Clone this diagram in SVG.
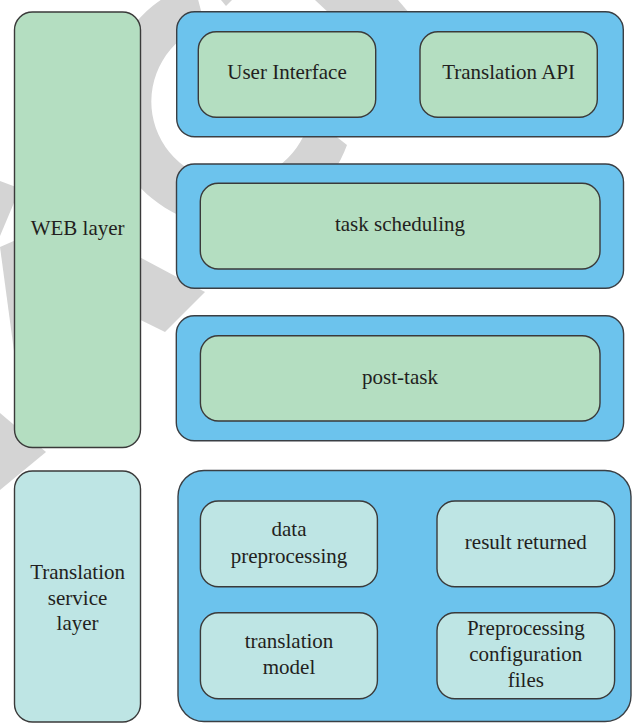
<svg xmlns="http://www.w3.org/2000/svg" width="632" height="724" viewBox="0 0 632 724">
  <style>
    .wm { fill: #d4d4d4; }
    .band { fill: #6cc3ed; stroke: #3a3f44; stroke-width: 1.4; }
    .web { fill: #b4dec1; stroke: #3a3a3a; stroke-width: 1.4; }
    .svc { fill: #bee5e4; stroke: #3a3a3a; stroke-width: 1.4; }
    .lbl { font-size: 21px; fill: #231f20; text-anchor: middle; }
  </style>

  <rect width="632" height="724" fill="#ffffff"/>

  <!-- background watermark lettering -->
  <g id="watermark">
    <path class="wm" d="M 194,-16 A 124 124 0 1 0 347,145 L 310,116 A 80 80 0 1 1 205,26 Z"/>
    <polygon class="wm" points="315,0 398,0 410,14 330,14"/>
    <polygon class="wm" points="221,0 232,0 226,6"/>
    <polygon class="wm" points="100,236 205,292 165,332 100,300"/>
    <polygon class="wm" points="0,181 16,187 16,198 0,236"/>
    <polygon class="wm" points="0,247 16,240 16,366"/>
    <polygon class="wm" points="0,413 46,452 0,490"/>
  </g>

  <g font-family="'Liberation Serif', 'DejaVu Serif', serif">
  <!-- left-hand layer columns -->
  <g id="web-layer">
    <rect class="web" x="14.5" y="12" width="126" height="435.5" rx="18"/>
    <text class="lbl" x="77.6" y="235">WEB layer</text>
  </g>
  <g id="service-layer">
    <rect class="svc" x="14.5" y="471" width="126" height="251" rx="18"/>
    <text class="lbl" x="77.6" y="579.3">Translation</text>
    <text class="lbl" x="77.6" y="604.5">service</text>
    <text class="lbl" x="77.6" y="630">layer</text>
  </g>

  <!-- WEB layer bands -->
  <g id="band-entry">
    <rect class="band" x="176.7" y="11.7" width="446.6" height="125" rx="18"/>
  </g>
  <g id="user-interface">
    <rect class="web" x="198.3" y="31.7" width="177.4" height="85.6" rx="18"/>
    <text class="lbl" x="287" y="79">User Interface</text>
  </g>
  <g id="translation-api">
    <rect class="web" x="420" y="31.7" width="177.3" height="85.6" rx="18"/>
    <text class="lbl" x="508.6" y="79">Translation API</text>
  </g>

  <g id="band-scheduling">
    <rect class="band" x="176.5" y="164" width="447" height="124.3" rx="18"/>
  </g>
  <g id="task-scheduling">
    <rect class="web" x="200.3" y="183.3" width="399.7" height="85.7" rx="18"/>
    <text class="lbl" x="400" y="231">task scheduling</text>
  </g>

  <g id="band-post">
    <rect class="band" x="176.3" y="315.7" width="447.3" height="125" rx="18"/>
  </g>
  <g id="post-task">
    <rect class="web" x="200.4" y="335.7" width="399.6" height="85.3" rx="18"/>
    <text class="lbl" x="400" y="384">post-task</text>
  </g>

  <!-- translation service band -->
  <g id="band-service">
    <rect class="band" x="178" y="470.5" width="453" height="251" rx="26"/>
  </g>
  <g id="data-preprocessing">
    <rect class="svc" x="200.4" y="501" width="177" height="85.7" rx="18"/>
    <text class="lbl" x="289" y="536">data</text>
    <text class="lbl" x="289" y="562.7">preprocessing</text>
  </g>
  <g id="result-returned">
    <rect class="svc" x="437" y="501" width="177.6" height="85.7" rx="18"/>
    <text class="lbl" x="525.8" y="548.7">result returned</text>
  </g>
  <g id="translation-model">
    <rect class="svc" x="200.4" y="612.7" width="177" height="86" rx="18"/>
    <text class="lbl" x="289" y="648.3">translation</text>
    <text class="lbl" x="289" y="674">model</text>
  </g>
  <g id="preprocessing-config">
    <rect class="svc" x="437" y="612.7" width="177.6" height="86" rx="18"/>
    <text class="lbl" x="525.8" y="635">Preprocessing</text>
    <text class="lbl" x="525.8" y="661">configuration</text>
    <text class="lbl" x="525.8" y="686.7">files</text>
  </g>
  </g>

  <!-- no connectors are drawn between these blocks -->
  <g id="connectors"/>
</svg>
